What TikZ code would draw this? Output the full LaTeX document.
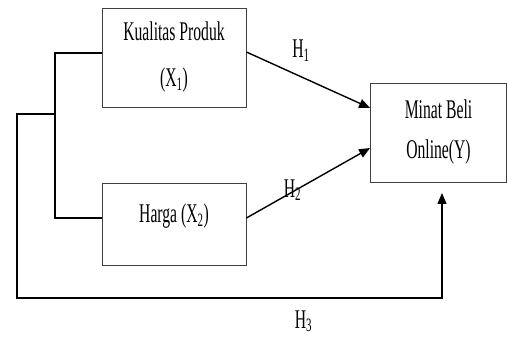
\documentclass[tikz,border=0pt]{standalone}
\usepackage{fontspec}
\setmainfont{Liberation Serif}[FakeStretch=0.58]
\usetikzlibrary{arrows.meta}
\begin{document}
\begin{tikzpicture}[x=1pt,y=-1pt,
	varbox/.style={draw=black!75,line width=0.8pt,inner sep=0pt,align=center,font=\fontsize{27}{46}\selectfont},
	link/.style={line width=1.4pt},
	arr/.style={link,-{Triangle[length=11pt,width=9pt]}},
	hyp/.style={font=\fontsize{27}{27}\selectfont,anchor=base}]
	\useasboundingbox (0,0) rectangle (507,337);
	% the variables
	\node[varbox,minimum width=144pt,minimum height=99pt] (kp) at (174,57.5) {Kualitas Produk\\(X\textsubscript{1})};
	\node[varbox,minimum width=144pt,minimum height=82pt,text depth=21pt] (hg) at (174,224) {Harga (X\textsubscript{2})};
	\node[varbox,minimum width=136pt,minimum height=99pt,font=\fontsize{27}{40}\selectfont] (mb) at (438.5,132.5) {Minat Beli\\Online(Y)};
	%% the joint line on the left
	\draw[link] ([yshift=4.5pt]kp.west) -| (55,135) |- ([yshift=6pt]hg.west);
	\coordinate (split) at (55,114);
	\coordinate (h3end) at (442,193);
	\draw[arr] (split) -| (17,298) -| (h3end);
	%% the hypotheses
	\draw[arr] ([yshift=5.5pt]kp.east) -- ([yshift=24.5pt]mb.west);
	\draw[arr] ([yshift=6pt]hg.east) -- ([yshift=-15.5pt]mb.west);
	\node[hyp] (h1) at (301,58) {H\textsubscript{1}};
	\node[hyp] (h2) at (292.5,197) {H\textsubscript{2}};
	\node[hyp] (h3) at (303.5,328) {H\textsubscript{3}};
\end{tikzpicture}
\end{document}
